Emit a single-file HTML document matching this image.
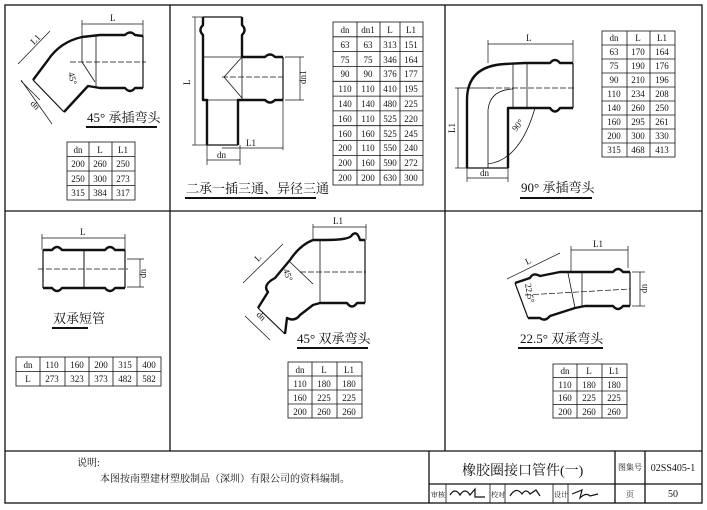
<!DOCTYPE html>
<html><head><meta charset="utf-8"><style>
html,body{margin:0;padding:0;background:#fff;}
svg{display:block;}
text{font-family:"Liberation Serif","Noto Serif CJK SC",serif;fill:#111;}
.t{font-size:9px;}
</style></head><body>
<svg width="707" height="510" viewBox="0 0 707 510" xmlns="http://www.w3.org/2000/svg">
<g fill="none" stroke="#111" stroke-width="1.3">
<rect x="5" y="5" width="697" height="498"/>
<line x1="170" y1="5" x2="170" y2="451"/>
<line x1="445" y1="5" x2="445" y2="451"/>
<line x1="5" y1="211" x2="702" y2="211"/>
<line x1="5" y1="451" x2="702" y2="451"/>
<line x1="429" y1="451" x2="429" y2="503"/>
<line x1="429" y1="484" x2="702" y2="484"/>
<line x1="615" y1="451" x2="615" y2="503"/>
<line x1="645" y1="451" x2="645" y2="503"/>
<line x1="446" y1="484" x2="446" y2="503" stroke-width="0.8"/>
<line x1="490" y1="484" x2="490" y2="503" stroke-width="0.8"/>
<line x1="505" y1="484" x2="505" y2="503" stroke-width="0.8"/>
<line x1="553" y1="484" x2="553" y2="503" stroke-width="0.8"/>
<line x1="568" y1="484" x2="568" y2="503" stroke-width="0.8"/>
</g>

<g stroke="#111" stroke-width="2">
<line x1="86" y1="127" x2="157" y2="127"/>
<line x1="185" y1="198" x2="316" y2="198"/>
<line x1="520" y1="198" x2="592" y2="198"/>
<line x1="52" y1="328" x2="88" y2="328"/>
<line x1="297" y1="348" x2="368" y2="348"/>
<line x1="518" y1="348" x2="603" y2="348"/>
</g>

<g fill="none" stroke="#111" stroke-width="2.4" stroke-linejoin="round">
<!-- 45 socket elbow -->
<path d="M82 37 L100 35 L125 35 Q130 30 135 35 L143 36"/>
<path d="M143 88 L135 88 Q130 94 125 88 L100 88 L88 86 L64 112"/>
<path d="M82 37 Q60 42 48 60 L33 80"/>
<line x1="143" y1="36" x2="143" y2="88" stroke-width="1.2"/>
<line x1="33" y1="80" x2="64" y2="112" stroke-width="1.2"/>
<line x1="82" y1="37" x2="82" y2="62" stroke-width="0.8"/>
<line x1="96" y1="36" x2="96" y2="87" stroke-width="0.8"/>
<line x1="82" y1="62" x2="95" y2="82" stroke-width="0.8"/>
<!-- tee -->
<path d="M203 17 L203 25 Q198 30 203 35 L203 100 L207 100 L207 145"/>
<path d="M242 17 L242 25 Q247 30 242 35 L242 57 L265 57 Q270 52 275 57 L283 57"/>
<path d="M283 100 L275 100 Q270 105 265 100 L242 100 L238 100 L238 145"/>
<line x1="283" y1="57" x2="283" y2="100" stroke-width="1.2"/>
<line x1="207" y1="145" x2="238" y2="145" stroke-width="1.2"/>
<line x1="203" y1="17" x2="242" y2="17" stroke-width="1.2"/>
<line x1="203" y1="57" x2="242" y2="57" stroke-width="0.8"/>
<line x1="203" y1="100" x2="242" y2="100" stroke-width="0.8"/>
<line x1="242" y1="57" x2="242" y2="100" stroke-width="0.8"/>
<path d="M242 57 L224 77 L242 98" stroke-width="0.8"/>
<!-- 90 elbow -->
<path d="M467 168 L467 100 Q467 66 505 64 L525 63 L550 63 Q555 57 560 63 L573 63"/>
<path d="M573 108 L560 108 Q555 115 550 108 L515 108 L508 108 L508 168"/>
<line x1="573" y1="63" x2="573" y2="108" stroke-width="1.2"/>
<line x1="467" y1="168" x2="508" y2="168" stroke-width="1.2"/>
<line x1="513" y1="64" x2="513" y2="108" stroke-width="0.8"/>
<line x1="527" y1="63" x2="527" y2="108" stroke-width="0.8"/>
<path d="M488 168 L488 110 Q490 90 513 89" stroke-width="0.8"/>
<path d="M488 164 Q520 160 535 108" stroke-width="0.8"/>
<!-- double socket -->
<path d="M43 250 L52 250 Q57 244 62 250 L105 250 Q110 244 115 250 L125 250"/>
<path d="M43 288 L52 288 Q57 294 62 288 L105 288 Q110 294 115 288 L125 288"/>
<line x1="43" y1="250" x2="43" y2="288" stroke-width="1.2"/>
<line x1="125" y1="250" x2="125" y2="288" stroke-width="1.2"/>
<line x1="84" y1="250" x2="84" y2="288" stroke-width="1"/>
<!-- 45 double socket -->
<path d="M313 240 L325 240 Q350 240 352 235 Q357 230 360 240 L365 240"/>
<path d="M365 303 L357 303 Q352 310 347 303 L320 303 L313 305 L300 315 Q295 322 287 318 L285 334"/>
<path d="M258 308 L268 292 Q262 285 275 278 L290 260 Q300 245 313 240"/>
<line x1="365" y1="240" x2="365" y2="303" stroke-width="1.2"/>
<line x1="285" y1="334" x2="258" y2="308" stroke-width="1.2"/>
<line x1="320" y1="240" x2="320" y2="303" stroke-width="0.8"/>
<line x1="290" y1="262" x2="313" y2="284" stroke-width="0.8"/>
<!-- 22.5 double socket -->
<path d="M515 283 L530 278 Q533 272 540 276 L560 272 L585 272 L613 272 Q618 266 623 272 L630 272"/>
<path d="M630 306 L623 306 Q618 312 613 306 L585 306 L575 308 L550 316 Q545 322 540 318 L528 318"/>
<line x1="630" y1="272" x2="630" y2="306" stroke-width="1.2"/>
<line x1="528" y1="318" x2="515" y2="283" stroke-width="1.2"/>
<line x1="582" y1="272" x2="582" y2="306" stroke-width="0.8"/>
<line x1="568" y1="273" x2="575" y2="308" stroke-width="0.8"/>
</g>

<g fill="none" stroke="#111" stroke-width="0.7">
<line x1="82" y1="24" x2="143" y2="24"/><line x1="82" y1="20" x2="82" y2="37"/><line x1="143" y1="20" x2="143" y2="36"/>
<line x1="18" y1="64" x2="50" y2="31"/><line x1="21" y1="81" x2="40" y2="100"/><line x1="21" y1="80" x2="52" y2="124"/>
<line x1="70" y1="62" x2="146" y2="62" stroke-dasharray="6 2"/>
<line x1="195" y1="17" x2="195" y2="145"/><line x1="192" y1="17" x2="203" y2="17"/><line x1="192" y1="145" x2="207" y2="145"/>
<line x1="300" y1="57" x2="300" y2="100"/><line x1="285" y1="57" x2="304" y2="57"/><line x1="285" y1="100" x2="304" y2="100"/>
<line x1="222" y1="148" x2="283" y2="148"/><line x1="283" y1="100" x2="283" y2="150"/>
<line x1="207" y1="160" x2="240" y2="160"/><line x1="207" y1="145" x2="207" y2="165"/><line x1="240" y1="145" x2="240" y2="165"/>
<line x1="222" y1="77" x2="283" y2="77" stroke-dasharray="6 2"/>
<line x1="488" y1="44" x2="573" y2="44"/><line x1="488" y1="40" x2="488" y2="63"/><line x1="573" y1="40" x2="573" y2="62"/>
<line x1="458" y1="88" x2="458" y2="168"/><line x1="455" y1="88" x2="490" y2="88"/><line x1="455" y1="168" x2="467" y2="168"/>
<line x1="467" y1="178" x2="508" y2="178"/><line x1="467" y1="168" x2="467" y2="182"/><line x1="508" y1="168" x2="508" y2="182"/>
<line x1="488" y1="88" x2="575" y2="88" stroke-dasharray="6 2"/>
<line x1="42" y1="238" x2="125" y2="238"/><line x1="42" y1="234" x2="42" y2="250"/><line x1="125" y1="234" x2="125" y2="250"/>
<line x1="140" y1="259" x2="140" y2="287"/><line x1="127" y1="259" x2="144" y2="259"/><line x1="127" y1="287" x2="144" y2="287"/>
<line x1="38" y1="269" x2="128" y2="269" stroke-dasharray="6 2"/>
<line x1="313" y1="227" x2="366" y2="227"/><line x1="313" y1="224" x2="313" y2="240"/><line x1="366" y1="224" x2="366" y2="240"/>
<line x1="243" y1="283" x2="283" y2="244"/><line x1="245" y1="316" x2="270" y2="340"/>
<line x1="300" y1="272" x2="366" y2="272" stroke-dasharray="6 2"/>
<line x1="571" y1="250" x2="628" y2="250"/><line x1="571" y1="246" x2="571" y2="272"/><line x1="628" y1="246" x2="628" y2="268"/>
<line x1="507" y1="279" x2="560" y2="253"/>
<line x1="640" y1="272" x2="640" y2="306"/><line x1="632" y1="272" x2="645" y2="272"/><line x1="632" y1="306" x2="645" y2="306"/>
<line x1="525" y1="295" x2="630" y2="289" stroke-dasharray="6 2"/>
</g>

<g class="t" font-size="9">
<text x="110" y="21">L</text>
<text x="34" y="45" transform="rotate(-45 34 45)">L1</text>
<text x="68" y="73" transform="rotate(75 68 73)">45°</text>
<text x="30" y="104" transform="rotate(45 30 104)">dn</text>
<text x="190" y="85" transform="rotate(-90 190 85)">L</text>
<text x="306" y="84" transform="rotate(-90 306 84)">dn1</text>
<text x="246" y="146">L1</text>
<text x="217" y="158">dn</text>
<text x="526" y="41">L</text>
<text x="455" y="133" transform="rotate(-90 455 133)">L1</text>
<text x="480" y="176">dn</text>
<text x="516" y="132" transform="rotate(-50 516 132)">90°</text>
<text x="80" y="235">L</text>
<text x="146" y="278" transform="rotate(-90 146 278)">dn</text>
<text x="333" y="224">L1</text>
<text x="258" y="262" transform="rotate(-45 258 262)">L</text>
<text x="256" y="315" transform="rotate(45 256 315)">dn</text>
<text x="283" y="270" transform="rotate(70 283 270)">45°</text>
<text x="593" y="247">L1</text>
<text x="527" y="265" transform="rotate(-27 527 265)">L</text>
<text x="647" y="293" transform="rotate(-90 647 293)">dn</text>
<text x="525" y="284" transform="rotate(80 525 284)">22.5°</text>
</g>

<g font-size="13">
<text x="87" y="122">45° 承插弯头</text>
<text x="186" y="193">二承一插三通、异径三通</text>
<text x="521" y="192">90° 承插弯头</text>
<text x="53" y="323">双承短管</text>
<text x="297" y="343">45° 双承弯头</text>
<text x="520" y="343">22.5° 双承弯头</text>
</g>

<g fill="none" stroke="#111" stroke-width="0.8">
<rect x="67" y="142" width="68" height="58"/>
<line x1="89" y1="142" x2="89" y2="200"/><line x1="112" y1="142" x2="112" y2="200"/>
<line x1="67" y1="156.5" x2="135" y2="156.5"/><line x1="67" y1="171" x2="135" y2="171"/><line x1="67" y1="185.5" x2="135" y2="185.5"/>
<rect x="333" y="22" width="90" height="163"/>
<line x1="357" y1="22" x2="357" y2="185"/><line x1="380" y1="22" x2="380" y2="185"/><line x1="400" y1="22" x2="400" y2="185"/>
<line x1="333" y1="36.8" x2="423" y2="36.8"/><line x1="333" y1="51.6" x2="423" y2="51.6"/><line x1="333" y1="66.5" x2="423" y2="66.5"/><line x1="333" y1="81.3" x2="423" y2="81.3"/><line x1="333" y1="96.1" x2="423" y2="96.1"/><line x1="333" y1="110.9" x2="423" y2="110.9"/><line x1="333" y1="125.7" x2="423" y2="125.7"/><line x1="333" y1="140.5" x2="423" y2="140.5"/><line x1="333" y1="155.4" x2="423" y2="155.4"/><line x1="333" y1="170.2" x2="423" y2="170.2"/>
<rect x="602" y="31" width="73" height="126"/>
<line x1="627" y1="31" x2="627" y2="157"/><line x1="650" y1="31" x2="650" y2="157"/>
<line x1="602" y1="45" x2="675" y2="45"/><line x1="602" y1="59" x2="675" y2="59"/><line x1="602" y1="73" x2="675" y2="73"/><line x1="602" y1="87" x2="675" y2="87"/><line x1="602" y1="101" x2="675" y2="101"/><line x1="602" y1="115" x2="675" y2="115"/><line x1="602" y1="129" x2="675" y2="129"/><line x1="602" y1="143" x2="675" y2="143"/>
<rect x="16" y="357" width="145" height="29"/>
<line x1="16" y1="371.5" x2="161" y2="371.5"/>
<line x1="40" y1="357" x2="40" y2="386"/><line x1="65" y1="357" x2="65" y2="386"/><line x1="89" y1="357" x2="89" y2="386"/><line x1="113" y1="357" x2="113" y2="386"/><line x1="137" y1="357" x2="137" y2="386"/>
<rect x="288" y="362" width="74" height="56"/>
<line x1="312" y1="362" x2="312" y2="418"/><line x1="337" y1="362" x2="337" y2="418"/>
<line x1="288" y1="376" x2="362" y2="376"/><line x1="288" y1="390" x2="362" y2="390"/><line x1="288" y1="404" x2="362" y2="404"/>
<rect x="553" y="364" width="74" height="54"/>
<line x1="577" y1="364" x2="577" y2="418"/><line x1="602" y1="364" x2="602" y2="418"/>
<line x1="553" y1="377.5" x2="627" y2="377.5"/><line x1="553" y1="391" x2="627" y2="391"/><line x1="553" y1="404.5" x2="627" y2="404.5"/>
</g>

<g class="t" font-size="9" text-anchor="middle">
<text x="78" y="153">dn</text><text x="100" y="153">L</text><text x="123" y="153">L1</text>
<text x="78" y="167">200</text><text x="100" y="167">260</text><text x="123" y="167">250</text>
<text x="78" y="182">250</text><text x="100" y="182">300</text><text x="123" y="182">273</text>
<text x="78" y="196">315</text><text x="100" y="196">384</text><text x="123" y="196">317</text>
<text x="345" y="33">dn</text><text x="368" y="33">dn1</text><text x="390" y="33">L</text><text x="411" y="33">L1</text>
<text x="345" y="48">63</text><text x="368" y="48">63</text><text x="390" y="48">313</text><text x="411" y="48">151</text>
<text x="345" y="63">75</text><text x="368" y="63">75</text><text x="390" y="63">346</text><text x="411" y="63">164</text>
<text x="345" y="77">90</text><text x="368" y="77">90</text><text x="390" y="77">376</text><text x="411" y="77">177</text>
<text x="345" y="92">110</text><text x="368" y="92">110</text><text x="390" y="92">410</text><text x="411" y="92">195</text>
<text x="345" y="107">140</text><text x="368" y="107">140</text><text x="390" y="107">480</text><text x="411" y="107">225</text>
<text x="345" y="122">160</text><text x="368" y="122">110</text><text x="390" y="122">525</text><text x="411" y="122">220</text>
<text x="345" y="137">160</text><text x="368" y="137">160</text><text x="390" y="137">525</text><text x="411" y="137">245</text>
<text x="345" y="151">200</text><text x="368" y="151">110</text><text x="390" y="151">550</text><text x="411" y="151">240</text>
<text x="345" y="166">200</text><text x="368" y="166">160</text><text x="390" y="166">590</text><text x="411" y="166">272</text>
<text x="345" y="181">200</text><text x="368" y="181">200</text><text x="390" y="181">630</text><text x="411" y="181">300</text>
<text x="614" y="41">dn</text><text x="638" y="41">L</text><text x="662" y="41">L1</text>
<text x="614" y="55">63</text><text x="638" y="55">170</text><text x="662" y="55">164</text>
<text x="614" y="69">75</text><text x="638" y="69">190</text><text x="662" y="69">176</text>
<text x="614" y="83">90</text><text x="638" y="83">210</text><text x="662" y="83">196</text>
<text x="614" y="97">110</text><text x="638" y="97">234</text><text x="662" y="97">208</text>
<text x="614" y="111">140</text><text x="638" y="111">260</text><text x="662" y="111">250</text>
<text x="614" y="125">160</text><text x="638" y="125">295</text><text x="662" y="125">261</text>
<text x="614" y="139">200</text><text x="638" y="139">300</text><text x="662" y="139">330</text>
<text x="614" y="153">315</text><text x="638" y="153">468</text><text x="662" y="153">413</text>
<text x="28" y="368">dn</text><text x="52" y="368">110</text><text x="77" y="368">160</text><text x="101" y="368">200</text><text x="125" y="368">315</text><text x="149" y="368">400</text>
<text x="28" y="382">L</text><text x="52" y="382">273</text><text x="77" y="382">323</text><text x="101" y="382">373</text><text x="125" y="382">482</text><text x="149" y="382">582</text>
<text x="300" y="373">dn</text><text x="324" y="373">L</text><text x="349" y="373">L1</text>
<text x="300" y="387">110</text><text x="324" y="387">180</text><text x="349" y="387">180</text>
<text x="300" y="401">160</text><text x="324" y="401">225</text><text x="349" y="401">225</text>
<text x="300" y="415">200</text><text x="324" y="415">260</text><text x="349" y="415">260</text>
<text x="565" y="374">dn</text><text x="589" y="374">L</text><text x="614" y="374">L1</text>
<text x="565" y="388">110</text><text x="589" y="388">180</text><text x="614" y="388">180</text>
<text x="565" y="401">160</text><text x="589" y="401">225</text><text x="614" y="401">225</text>
<text x="565" y="415">200</text><text x="589" y="415">260</text><text x="614" y="415">260</text>
</g>

<text x="77" y="466" font-size="10">说明:</text>
<text x="100" y="482" font-size="10">本图按南塑建材塑胶制品（深圳）有限公司的资料编制。</text>
<text x="462" y="475" font-size="14">橡胶圈接口管件(一)</text>
<text x="630" y="470" font-size="8" text-anchor="middle">图集号</text>
<text x="673" y="471" font-size="10" text-anchor="middle">02SS405-1</text>
<text x="630" y="497" font-size="8" text-anchor="middle">页</text>
<text x="673" y="497" font-size="10" text-anchor="middle">50</text>
<text x="431" y="497" font-size="7">审核</text>
<text x="491" y="497" font-size="7">校对</text>
<text x="554" y="497" font-size="7">设计</text>
<g fill="none" stroke="#111" stroke-width="1.2">
<path d="M450 495 q5 -8 10 0 q5 -8 10 0 l5 -6 l0 8 l10 0"/>
<path d="M510 496 q6 -10 12 -2 q4 -6 8 0 l6 -4 l4 6"/>
<path d="M572 494 l10 -4 l-2 8 q6 -6 10 -2 l8 -2"/>
</g>
</svg>
</body></html>
